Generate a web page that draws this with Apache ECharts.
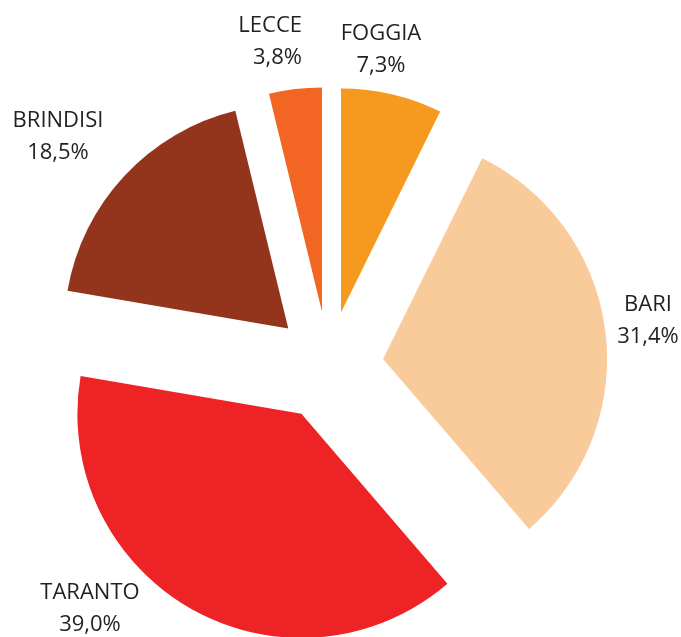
<!DOCTYPE html>
<html>
<head>
<meta charset="utf-8">
<script src="https://cdn.jsdelivr.net/npm/echarts@6/dist/echarts.min.js"></script>
<style>
  html, body { margin: 0; padding: 0; background: #fff; }
  #chart { width: 681px; height: 637px; }
</style>
</head>
<body>
<div id="chart"></div>
<script>
// province shares (%), clockwise from 12 o'clock
const provinces = ["FOGGIA", "BARI", "TARANTO", "BRINDISI", "LECCE"];
const shares = [7.3, 31.4, 39.0, 18.5, 3.8];
const colors = ["#F5991F", "#F9CA9A", "#EE2326", "#93351C", "#F26522"];

// where each label block sits (centre / anchor of the two lines)
const labelSpots = [
  { x: 381, y: 50, align: "center" },
  { x: 648, y: 321, align: "center" },
  { x: 90, y: 609, align: "center" },
  { x: 58, y: 137, align: "center" },
  { x: 302, y: 42, align: "right" }
];

const pieCenter = [328.5, 366];
const pieRadius = 224;
const explode = 55;

const chart = echarts.init(document.getElementById("chart"));

const total = shares.reduce((a, b) => a + b, 0);
let acc = 0;
const series = provinces.map((name, i) => {
  // every slice is its own pie, pushed out along its mid angle
  const mid = ((acc + shares[i] / 2) / total) * Math.PI * 2;
  acc += shares[i];
  return {
    type: "pie",
    silent: true,
    center: [
      pieCenter[0] + Math.sin(mid) * explode,
      pieCenter[1] - Math.cos(mid) * explode
    ],
    radius: pieRadius,
    startAngle: 90,
    clockwise: true,
    avoidLabelOverlap: false,
    emphasis: { disabled: true },
    labelLine: { show: false },
    labelLayout: function(params) {
      const s = labelSpots[params.dataIndex];
      return { x: s.x, y: s.y, align: s.align, verticalAlign: "middle" };
    },
    data: provinces.map((n, j) => ({
      name: n,
      value: shares[j],
      itemStyle: j === i
        ? { color: colors[j], borderWidth: 0 }
        : { color: "rgba(0,0,0,0)", borderWidth: 0, opacity: 0 },
      label: {
        show: j === i,
        position: "outside",
        color: "#231F20",
        fontFamily: "Open Sans",
        fontSize: 22,
        lineHeight: 32,
        formatter: function(p) {
          return p.name + "\n" + p.value.toFixed(1).replace(".", ",") + "%";
        }
      }
    }))
  };
});

chart.setOption({ animation: false, series: series });
</script>
</body>
</html>
